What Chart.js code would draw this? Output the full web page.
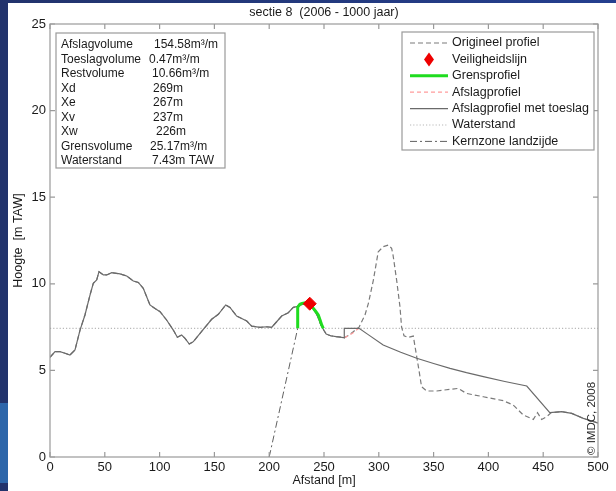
<!DOCTYPE html>
<html><head><meta charset="utf-8">
<script src="https://cdn.jsdelivr.net/npm/chart.js@4/dist/chart.umd.min.js"></script>
<style>
html,body{margin:0;padding:0;width:616px;height:491px;overflow:hidden;}
body{background:linear-gradient(to bottom,#22336c 0,#22336c 403px,#2d66aa 403px,#2d66aa 483px,#22336c 483px);}
#top{position:absolute;left:0;top:0;width:616px;height:3px;background:linear-gradient(to right,#22336c,#243f8f);}
#wrap{position:absolute;left:8px;top:3px;width:608px;height:488px;background:#fff;}
canvas{display:block;}
</style></head>
<body><div id="top"></div><div id="wrap"><canvas id="c" width="608" height="488"></canvas></div>
<script>
// ---- tick labels ----
const xTicks = [0,50,100,150,200,250,300,350,400,450,500];
const yTicks = [0,5,10,15,20,25];

// ---- landward dune profile (shared by original and erosion profile) ----
const duneX = [0,4.6,9.1,13.7,18.2,22.8,27.4,31.9,36.5,39.5,42.6,44.7,48.7,51.7,56.3,63.9,70,76,80.6,85.1,91.2,95.8,100.4,106.4,112.5,116.2,120.1,123.2,127.1,130.8,139.9,147.5,153.6,160.3,164.2,170.3,174.9,179.5,184,191.6,197.7,202.3,206.8,211.4,217.4,222,225,228,232,236,240,244,247,250,252,256,261,265,268.5];
const duneY = [5.76,6.08,6.08,5.99,5.89,6.18,7.33,8.20,9.35,10.03,10.22,10.70,10.51,10.51,10.64,10.57,10.45,10.16,10.08,9.74,8.78,8.58,8.39,7.91,7.33,6.91,7.04,6.85,6.52,6.66,7.37,7.95,8.24,8.78,8.64,8.14,8.0,7.85,7.56,7.49,7.52,7.49,7.81,8.14,8.33,8.64,8.68,8.78,8.82,8.78,8.6,8.15,7.65,7.3,7.1,7.0,6.95,6.92,6.88];

// ---- original profile, seaward part ----
const origX = [273,277,282,287.4,290.5,295,299.5,304,308.7,311.7,313,316.3,319.3,320.8,323,326.7,331.5,333,336.3,339,343.7,352.8,365,372.5,380,395.4,413.6,422.7,431.9,441,444.8,448.6,453.2,457.4,466.8,476,486.6,500];
const origY = [7.05,7.25,7.5,8.2,8.87,10.2,11.85,12.14,12.24,12.05,11.66,10.2,8.68,7.5,7.0,6.9,6.98,6.4,5.15,4.06,3.81,3.81,3.91,3.96,3.67,3.48,3.25,3.0,2.42,2.17,2.56,2.17,2.33,2.56,2.62,2.52,2.23,1.96];

// ---- erosion profile with surcharge, seaward part ----
const toeslagX = [268.5,282,290,304,320,334.6,350,365,380,395.4,415,435,456,466.8,476,486.6,500];
const toeslagY = [7.43,7.43,7.08,6.47,6.05,5.70,5.40,5.12,4.87,4.64,4.36,4.10,2.56,2.62,2.52,2.23,1.96];

// ---- erosion profile (visible part) ----
const afslagX = [268.5,272,276,279,282];
const afslagY = [6.88,7.0,7.15,7.3,7.43];

// ---- boundary profile ----
const grensX = [226,226,228,230,233,236,238,240.3,242.5,244.8,246.5,247.9,249.4];
const grensY = [7.43,8.65,8.82,8.87,8.9,8.88,8.8,8.58,8.4,8.2,7.9,7.62,7.43];

// ---- safety line point, core zone, water level ----
const veiligX = [237];
const veiligY = [8.85];
const kernX = [200,226];
const kernY = [0,7.43];
const waterX = [0,500];
const waterY = [7.43,7.43];

// ---- info box texts ----
const infoLabels = ['Afslagvolume','Toeslagvolume','Restvolume','Xd','Xe','Xv','Xw','Grensvolume','Waterstand'];
const infoValues = ['154.58m³/m','0.47m³/m','10.66m³/m','269m','267m','237m','226m','25.17m³/m','7.43m TAW'];
const infoValueX = [146,141,144,145,145,145,148,142,144];

const legendLabels = ['Origineel profiel','Veiligheidslijn','Grensprofiel','Afslagprofiel','Afslagprofiel met toeslag','Waterstand','Kernzone landzijde'];

const pts = (xs, ys) => xs.map((x, i) => ({x, y: ys[i]}));

const FONT = '"Liberation Sans", Arial, Helvetica, sans-serif';

const styles = {
  orig:  {color:'#7a7a7a', width:1.2, dash:[5,3]},
  grens: {color:'#1fdc1f', width:3, dash:[]},
  afslag:{color:'#ff9c9c', width:1.2, dash:[4,3]},
  toes:  {color:'#6a6a6a', width:1.2, dash:[]},
  water: {color:'#b8b8b8', width:1.2, dash:[1.2,2]},
  kern:  {color:'#606060', width:1, dash:[7,3,2,3]}
};

const lineDs = (label, data, s) => ({
  label, data, showLine:true, borderColor:s.color, borderWidth:s.width,
  borderDash:s.dash, pointRadius:0, fill:false, tension:0
});

const datasets = [
  {label:'Veiligheidslijn', data:pts(veiligX, veiligY), pointStyle:'rectRot', pointRadius:6.5,
   backgroundColor:'#ee0000', borderColor:'#ee0000', borderWidth:1, showLine:false},
  lineDs('Grensprofiel', pts(grensX, grensY), styles.grens),
  lineDs('Afslagprofiel met toeslag', pts(duneX.concat(toeslagX), duneY.concat(toeslagY)), styles.toes),
  lineDs('Afslagprofiel', pts(afslagX, afslagY), styles.afslag),
  lineDs('Origineel profiel', pts(duneX.concat(origX), duneY.concat(origY)), styles.orig),
  lineDs('Kernzone landzijde', pts(kernX, kernY), styles.kern),
  lineDs('Waterstand', pts(waterX, waterY), styles.water)
];

const decor = {
  id:'decor',
  afterDatasetsDraw(chart){
    const {ctx, chartArea:a, scales:{x, y}} = chart;
    ctx.save();
    ctx.strokeStyle = '#9a9a9a'; ctx.lineWidth = 1.2; ctx.setLineDash([]);
    ctx.strokeRect(a.left, a.top, a.right - a.left, a.bottom - a.top);
    ctx.beginPath();
    xTicks.forEach(v => { const p = x.getPixelForValue(v);
      ctx.moveTo(p, a.bottom); ctx.lineTo(p, a.bottom - 5);
      ctx.moveTo(p, a.top); ctx.lineTo(p, a.top + 5); });
    yTicks.forEach(v => { const p = y.getPixelForValue(v);
      ctx.moveTo(a.left, p); ctx.lineTo(a.left + 5, p);
      ctx.moveTo(a.right, p); ctx.lineTo(a.right - 5, p); });
    ctx.stroke();

    // info box
    ctx.fillStyle = '#fff';
    ctx.fillRect(48, 30, 169, 135);
    ctx.strokeStyle = '#9a9a9a';
    ctx.strokeRect(48, 30, 169, 135);
    ctx.fillStyle = '#1a1a1a';
    ctx.font = '12px ' + FONT;
    ctx.textBaseline = 'middle'; ctx.textAlign = 'left';
    infoLabels.forEach((t, i) => {
      const yy = 42 + i * 14.5;
      ctx.fillText(t, 53, yy);
      ctx.fillText(infoValues[i], infoValueX[i], yy);
    });

    // legend box
    ctx.fillStyle = '#fff';
    ctx.fillRect(394, 29, 192, 118);
    ctx.strokeStyle = '#9a9a9a';
    ctx.strokeRect(394, 29, 192, 118);
    const order = [styles.orig, null, styles.grens, styles.afslag, styles.toes, styles.water, styles.kern];
    legendLabels.forEach((t, i) => {
      const yy = 40 + i * 16.4;
      const s = order[i];
      if (s) {
        ctx.beginPath(); ctx.strokeStyle = s.color; ctx.lineWidth = s.width; ctx.setLineDash(s.dash);
        ctx.moveTo(402, yy); ctx.lineTo(440, yy); ctx.stroke();
      } else {
        ctx.setLineDash([]); ctx.fillStyle = '#ee0000';
        ctx.beginPath(); ctx.moveTo(421, yy - 7); ctx.lineTo(426, yy); ctx.lineTo(421, yy + 7); ctx.lineTo(416, yy); ctx.closePath(); ctx.fill();
      }
      ctx.setLineDash([]);
      ctx.fillStyle = '#1a1a1a';
      ctx.font = '12.5px ' + FONT;
      ctx.fillText(t, 444, yy);
    });

    // copyright
    ctx.save();
    ctx.translate(584, 452);
    ctx.rotate(-Math.PI / 2);
    ctx.font = '11.5px ' + FONT;
    ctx.fillStyle = '#2a2a2a';
    ctx.textAlign = 'left'; ctx.textBaseline = 'middle';
    ctx.fillText('© IMDC, 2008', 0, 0);
    ctx.restore();
    ctx.restore();
  }
};

new Chart(document.getElementById('c'), {
  type:'scatter',
  data:{datasets},
  plugins:[decor],
  options:{
    responsive:false, animation:false, events:[],
    layout:{padding:{left:0, right:18, top:0, bottom:0}},
    plugins:{
      legend:{display:false}, tooltip:{enabled:false},
      title:{display:true, text:'sectie 8  (2006 - 1000 jaar)', fullSize:false, color:'#1a1a1a',
             font:{family:FONT, size:12.5, weight:'normal', lineHeight:1.2}, padding:{top:2, bottom:4}}
    },
    scales:{
      x:{type:'linear', min:0, max:500,
         afterBuildTicks:s => { s.ticks = xTicks.map(v => ({value:v})); },
         afterFit:s => { s.height = 34; },
         grid:{display:false, drawTicks:false}, border:{display:false},
         ticks:{padding:3, color:'#1a1a1a', font:{family:FONT, size:13}, maxRotation:0, autoSkip:false},
         title:{display:true, text:'Afstand [m]', color:'#1a1a1a', font:{family:FONT, size:12.5, lineHeight:1.2}, padding:{top:0, bottom:2.5}}},
      y:{type:'linear', min:0, max:25,
         afterBuildTicks:s => { s.ticks = yTicks.map(v => ({value:v})); },
         afterFit:s => { s.width = 42; },
         grid:{display:false, drawTicks:false}, border:{display:false},
         ticks:{padding:4, color:'#1a1a1a', font:{family:FONT, size:13}, autoSkip:false},
         title:{display:true, text:'Hoogte  [m TAW]', color:'#1a1a1a', font:{family:FONT, size:12.5, lineHeight:1.2}, padding:{top:3.5, bottom:0}}}
    }
  }
});
</script>
</body></html>
